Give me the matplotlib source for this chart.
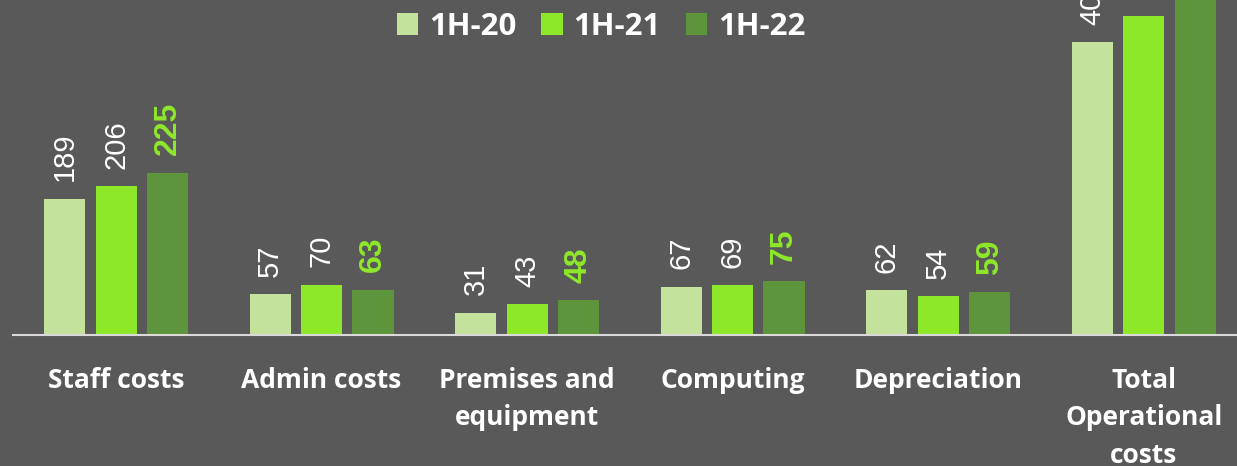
import matplotlib
matplotlib.use("Agg")
import matplotlib.pyplot as plt
from matplotlib import font_manager
import numpy as np

categories = ["Staff costs", "Admin costs", "Premises and\nequipment",
              "Computing", "Depreciation", "Total\nOperational\ncosts"]
series_names = ["1H-20", "1H-21", "1H-22"]
values_1h20 = [189, 57, 31, 67, 62, 406]
values_1h21 = [206, 70, 43, 69, 54, 442]
values_1h22 = [225, 63, 48, 75, 59, 470]

BG = "#595959"
colors = ["#C3E29B", "#8EE82A", "#5E943C"]
label_colors = ["white", "white", "#8EE82A"]
label_weights = ["normal", "normal", "bold"]

installed = {f.name for f in font_manager.fontManager.ttflist}
num_font = "Liberation Sans Narrow" if "Liberation Sans Narrow" in installed else "Liberation Sans"
cat_font = "Open Sans"

fig = plt.figure(figsize=(12.37, 4.66), dpi=100, facecolor=BG)
ax = fig.add_axes([13.3 / 1237, 131 / 466, 1 - 13.3 / 1237, 335 / 466])
ax.set_facecolor(BG)

x = np.arange(len(categories))
offsets = [-0.25, 0.0, 0.25]
width = 0.2
all_series = [values_1h20, values_1h21, values_1h22]

for vals, off, col, lc, lw, name in zip(all_series, offsets, colors,
                                         label_colors, label_weights, series_names):
    bars = ax.bar(x + off, vals, width, color=col, label=name, zorder=2)
    for b, v in zip(bars, vals):
        ax.annotate(str(v), (b.get_x() + b.get_width() / 2, b.get_height()),
                    xytext=(0, 12.5), textcoords="offset points",
                    rotation=90, ha="center", va="bottom",
                    color=lc, fontweight=lw, fontsize=21 if lw == "normal" else 23,
                    family=num_font, annotation_clip=False, clip_on=False)

ax.set_xlim(-0.5, 5.454)
ax.set_ylim(0, 464.6)
ax.set_xticks(x)
ax.set_xticklabels(categories, family=cat_font, fontweight="bold",
                   fontsize=19, color="white", linespacing=1.5, va="top")
ax.tick_params(axis="x", length=0, pad=23)
ax.set_yticks([])
for s in ["top", "right", "left"]:
    ax.spines[s].set_visible(False)
ax.spines["bottom"].set_color("#D9D9D9")
ax.spines["bottom"].set_linewidth(1.5)

leg = fig.legend(loc="center", bbox_to_anchor=(601 / 1237, 1 - 27 / 466),
                 ncol=3, frameon=False, handlelength=0.68, handleheight=0.68,
                 handletextpad=0.35, columnspacing=0.8,
                 prop={"family": cat_font, "weight": "bold", "size": 22.5})
for t in leg.get_texts():
    t.set_color("white")

fig.savefig("out.png", dpi=100, facecolor=BG)
